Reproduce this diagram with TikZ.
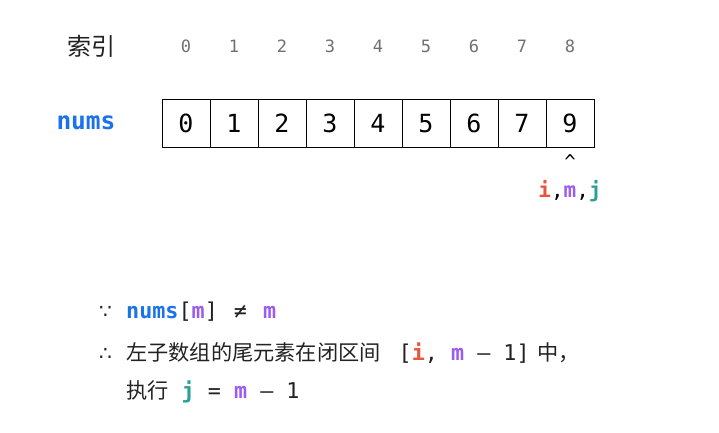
\documentclass[tikz,border=0pt]{standalone}
\usepackage{fontspec}
\newfontfamily\mono{DejaVu Sans Mono}
\newfontfamily\dvs{DejaVu Sans}
\newfontfamily\cjkf{Noto Sans CJK SC}
\definecolor{numsblue}{HTML}{1A73E8}
\definecolor{ired}{HTML}{E8553A}
\definecolor{mpurple}{HTML}{9B5CF0}
\definecolor{jteal}{HTML}{2AA198}
\definecolor{idxgray}{HTML}{707070}
\definecolor{txt}{HTML}{222222}
\newcommand\zh[1]{{\cjkf\fontsize{21.2}{21.2}\selectfont #1}}
\newcommand\vI{{\bfseries\color{ired}i}}
\newcommand\vM{{\bfseries\color{mpurple}m}}
\newcommand\vJ{{\bfseries\color{jteal}j}}
\newcommand\lead[1]{\makebox[27pt][l]{{\dvs\fontsize{20}{20}\selectfont #1}}}
\tikzset{
  cell/.style={draw=black, line width=1pt, minimum width=48pt, minimum height=48.5pt, inner sep=0pt, font=\mono\fontsize{25}{25}\selectfont},
  idx/.style={inner sep=0pt, text=idxgray, font=\mono\fontsize{17}{17}\selectfont},
  line/.style={anchor=base west, inner sep=0pt, text=txt, font=\mono\fontsize{21.75}{21.75}\selectfont},
}
\begin{document}
\begin{tikzpicture}[x=1pt,y=-1pt]
\useasboundingbox (0,0) rectangle (719,432);
\fill[white] (0,0) rectangle (719,432);
\node[inner sep=0pt, text=txt, font=\cjkf\fontsize{24}{24}\selectfont] (lbl) at (91.5,46) {索引};
\foreach \k in {0,...,8} {
  \node[idx] (i\k) at (186+48*\k,46) {\k};
}
\node[inner sep=0pt, text=numsblue, font=\mono\bfseries\fontsize{24.5}{24.5}\selectfont] (nums) at (86,123) {nums};
\foreach \k/\v in {0/0,1/1,2/2,3/3,4/4,5/5,6/6,7/7,8/9} {
  \node[cell] (c\k) at (186+48*\k,123.3) {\v};
}
\node[inner sep=0pt, font=\mono\fontsize{19}{19}\selectfont] (caret) at (570,162) {\^{}};
\node[anchor=base, inner sep=0pt, font=\mono\bfseries\fontsize{21}{21}\selectfont] (imj) at (570,197)
  {\textcolor{ired}{i}\textmd{,}\textcolor{mpurple}{m}\textmd{,}\textcolor{jteal}{j}};
\node[line] (l1) at (99,318) {\lead{∵}{\bfseries\color{numsblue}nums}[\vM]\ \makebox[19pt][c]{≠}\ \vM};
\node[line] (l2) at (99,360) {\lead{∴}\zh{左子数组的尾元素在闭区间}\ \hspace{5pt}[\vI,\ \vM\ –\ 1]\hspace{8pt}\zh{中，}};
\node[line] (l3) at (126,398) {\zh{执行}\ \vJ\ =\ \vM\ –\ 1};
\end{tikzpicture}
\end{document}
